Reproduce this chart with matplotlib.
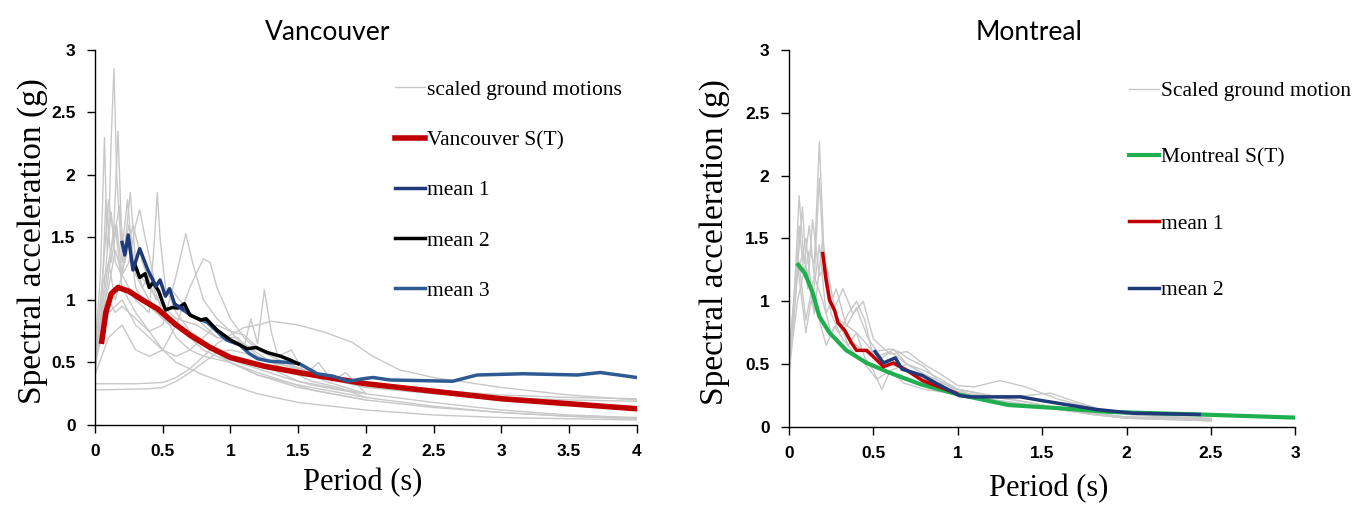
import matplotlib
matplotlib.use("Agg")
import matplotlib.pyplot as plt
from matplotlib.lines import Line2D

# ---- Vancouver data ----
van_gm_T = [
    [0, 0.05, 0.1, 0.12, 0.14, 0.16, 0.2, 0.25, 0.3, 0.4, 0.5, 0.6, 0.8, 1.0, 1.2, 1.5, 2.0],
    [0, 0.04, 0.07, 0.09, 0.12, 0.15, 0.2, 0.25, 0.3, 0.35, 0.45, 0.55, 0.7, 0.9, 1.1, 1.3, 1.5, 1.75, 2.0],
    [0, 0.05, 0.1, 0.14, 0.17, 0.2, 0.24, 0.28, 0.33, 0.4, 0.5, 0.6, 0.75, 0.9, 1.05, 1.2, 1.4, 1.6, 1.8, 2.0],
    [0, 0.05, 0.08, 0.12, 0.16, 0.2, 0.26, 0.3, 0.35, 0.4, 0.5, 0.6, 0.7, 0.8, 1.0, 1.2, 1.5, 2.0, 2.5, 3, 3.5, 4],
    [0, 0.05, 0.1, 0.15, 0.2, 0.25, 0.3, 0.33, 0.37, 0.45, 0.55, 0.65, 0.8, 1.0, 1.2, 1.4, 1.6, 1.8, 2.0, 2.5, 3, 3.5, 4],
    [0, 0.05, 0.1, 0.15, 0.2, 0.3, 0.4, 0.44, 0.46, 0.48, 0.52, 0.6, 0.7, 0.85, 1.0, 1.2, 1.4, 1.6, 1.8, 2.0, 2.5, 3, 3.5, 4],
    [0, 0.05, 0.1, 0.15, 0.2, 0.3, 0.4, 0.5, 0.6, 0.67, 0.72, 0.8, 0.9, 1.0, 1.1, 1.2, 1.3, 1.5, 1.7, 2.0],
    [0, 0.1, 0.2, 0.3, 0.4, 0.5, 0.6, 0.7, 0.8, 0.85, 0.9, 1.0, 1.1, 1.2, 1.3, 1.4, 1.6, 1.8, 2.0, 2.5, 3, 3.5, 4],
    [0, 0.1, 0.2, 0.3, 0.4, 0.5, 0.6, 0.7, 0.8, 0.9, 1.0, 1.1, 1.15, 1.2, 1.25, 1.3, 1.35, 1.45, 1.55, 1.65, 1.75, 1.85, 2.0],
    [0, 0.3, 0.5, 0.6, 0.7, 0.8, 0.9, 1.0, 1.1, 1.2, 1.3, 1.5, 1.7, 1.9, 2.05, 2.25, 2.5, 3, 3.5, 4],
    [0, 0.4, 0.5, 0.6, 0.7, 0.8, 0.9, 1.0, 1.2, 1.4, 1.6, 1.8, 2.0, 2.5, 3, 3.5, 4],
    [0, 0.05, 0.1, 0.15, 0.2, 0.3, 0.4, 0.5, 0.6, 0.8, 1.0, 1.2, 1.5, 2.0, 2.5, 3, 3.5, 4],
    [0, 0.05, 0.1, 0.14, 0.18, 0.22, 0.28, 0.35, 0.45, 0.55, 0.7, 0.9, 1.1, 1.3, 1.5, 1.7, 2.0],
]
van_gm_Sa = [
    [0.45, 0.9, 1.5, 2.3, 2.85, 2.0, 1.3, 1.6, 1.2, 1.0, 0.85, 0.8, 0.6, 0.5, 0.4, 0.3, 0.2],
    [0.6, 1.2, 2.3, 1.4, 1.7, 1.3, 1.2, 1.5, 1.1, 1.0, 0.9, 0.8, 0.75, 0.6, 0.5, 0.45, 0.35, 0.3, 0.25],
    [0.5, 0.8, 1.2, 1.6, 2.35, 1.4, 1.8, 1.3, 1.2, 1.1, 0.95, 0.85, 0.8, 0.7, 0.7, 0.55, 0.45, 0.35, 0.3, 0.22],
    [0.4, 1.0, 1.8, 1.3, 1.6, 1.2, 1.86, 1.3, 1.1, 1.2, 0.9, 0.7, 0.6, 0.55, 0.5, 0.4, 0.32, 0.22, 0.15, 0.1, 0.07, 0.05],
    [0.5, 0.9, 1.1, 1.4, 1.2, 1.3, 1.6, 1.72, 1.5, 1.1, 0.85, 0.75, 0.65, 0.5, 0.42, 0.35, 0.28, 0.24, 0.2, 0.14, 0.1, 0.07, 0.05],
    [0.55, 0.9, 1.3, 1.0, 1.2, 1.0, 0.9, 1.5, 1.86, 1.5, 1.1, 0.9, 0.75, 0.6, 0.52, 0.45, 0.38, 0.32, 0.28, 0.25, 0.18, 0.12, 0.08, 0.06],
    [0.5, 0.8, 1.0, 0.9, 0.95, 0.85, 0.75, 0.8, 1.2, 1.53, 1.3, 1.0, 0.85, 0.75, 0.72, 0.62, 0.55, 0.45, 0.35, 0.25],
    [0.4, 0.7, 0.8, 0.6, 0.55, 0.6, 0.8, 1.1, 1.33, 1.3, 1.1, 0.85, 0.7, 0.6, 0.55, 0.5, 0.42, 0.38, 0.34, 0.28, 0.24, 0.22, 0.21],
    [0.5, 0.9, 1.0, 0.8, 0.7, 0.6, 0.55, 0.6, 0.7, 0.8, 0.75, 0.62, 0.85, 0.65, 1.08, 0.75, 0.55, 0.6, 0.4, 0.5, 0.35, 0.42, 0.25],
    [0.33, 0.33, 0.34, 0.38, 0.45, 0.55, 0.65, 0.72, 0.78, 0.8, 0.83, 0.8, 0.74, 0.66, 0.55, 0.44, 0.38, 0.3, 0.24, 0.2],
    [0.28, 0.29, 0.3, 0.35, 0.42, 0.5, 0.58, 0.6, 0.55, 0.48, 0.4, 0.35, 0.3, 0.25, 0.22, 0.2, 0.19],
    [0.6, 1.1, 1.3, 1.6, 1.1, 0.9, 0.75, 0.6, 0.5, 0.4, 0.32, 0.25, 0.18, 0.12, 0.08, 0.06, 0.05, 0.04],
    [0.45, 1.1, 1.8, 1.5, 1.75, 1.3, 1.6, 1.3, 1.0, 1.1, 0.9, 0.7, 0.65, 0.5, 0.45, 0.38, 0.3],
]

van_st_T = [0.05, 0.08, 0.12, 0.17, 0.25, 0.35, 0.46, 0.6, 0.7, 0.85, 1.0, 1.25, 1.5, 2.0, 2.5, 3.0, 3.5, 4.0]
van_st_Sa = [0.67, 0.9, 1.05, 1.1, 1.07, 1.0, 0.93, 0.8, 0.72, 0.62, 0.54, 0.47, 0.42, 0.33, 0.27, 0.21, 0.17, 0.13]

van_m1_T = [0.2, 0.22, 0.245, 0.28, 0.33, 0.39, 0.45, 0.48, 0.52, 0.55, 0.59, 0.65]
van_m1_Sa = [1.46, 1.36, 1.52, 1.24, 1.41, 1.24, 1.11, 1.16, 1.03, 1.09, 0.96, 0.93]

van_m2_T = [0.295, 0.33, 0.37, 0.4, 0.43, 0.47, 0.52, 0.57, 0.61, 0.66, 0.7, 0.78, 0.82, 0.9, 1.0, 1.07, 1.12, 1.19, 1.27, 1.37, 1.44, 1.5]
van_m2_Sa = [1.28, 1.18, 1.21, 1.1, 1.14, 1.07, 0.92, 0.94, 0.935, 0.97, 0.88, 0.84, 0.85, 0.76, 0.68, 0.64, 0.61, 0.62, 0.58, 0.55, 0.52, 0.49]

van_m3_T = [0.6, 0.65, 0.72, 0.83, 0.97, 1.07, 1.14, 1.2, 1.29, 1.44, 1.51, 1.64, 1.76, 1.87, 1.98, 2.05, 2.18, 2.64, 2.82, 3.16, 3.56, 3.73, 4.0]
van_m3_Sa = [0.96, 0.92, 0.87, 0.82, 0.68, 0.64, 0.57, 0.53, 0.51, 0.5, 0.49, 0.41, 0.39, 0.35, 0.37, 0.38, 0.36, 0.35, 0.4, 0.41, 0.4, 0.42, 0.38]

# ---- Montreal data ----
mtl_gm_T = [
    [0, 0.03, 0.06, 0.09, 0.12, 0.15, 0.18, 0.21, 0.25, 0.3, 0.35, 0.4, 0.5, 0.6, 0.7, 0.8, 1.0, 1.2, 1.4, 1.6, 1.8, 2.0, 2.5],
    [0, 0.03, 0.06, 0.09, 0.12, 0.15, 0.18, 0.21, 0.25, 0.3, 0.35, 0.4, 0.45, 0.5, 0.6, 0.7, 0.8, 1.0, 1.2, 1.4, 1.6, 1.8, 2.0, 2.5],
    [0, 0.04, 0.08, 0.11, 0.14, 0.18, 0.22, 0.27, 0.32, 0.38, 0.44, 0.5, 0.6, 0.7, 0.8, 0.9, 1.0, 1.1, 1.25, 1.4, 1.6, 1.8, 2.0, 2.5],
    [0, 0.05, 0.1, 0.14, 0.18, 0.22, 0.28, 0.34, 0.4, 0.47, 0.55, 0.62, 0.7, 0.8, 0.9, 1.0, 1.2, 1.4, 1.55, 1.7, 1.9, 2.1, 2.5],
    [0, 0.05, 0.1, 0.13, 0.17, 0.22, 0.27, 0.32, 0.38, 0.45, 0.52, 0.6, 0.68, 0.8, 0.95, 1.1, 1.3, 1.5, 1.7, 2.0, 2.5],
    [0, 0.05, 0.1, 0.15, 0.2, 0.25, 0.3, 0.35, 0.4, 0.45, 0.5, 0.55, 0.6, 0.7, 0.8, 0.9, 1.0, 1.2, 1.4, 1.6, 1.8, 2.0, 2.5],
    [0, 0.05, 0.1, 0.15, 0.2, 0.25, 0.3, 0.4, 0.5, 0.6, 0.65, 0.7, 0.8, 0.9, 1.0, 1.1, 1.25, 1.4, 1.6, 1.8, 2.0, 2.5],
]
mtl_gm_Sa = [
    [0.45, 0.9, 1.6, 1.2, 1.4, 1.3, 2.27, 1.3, 1.0, 0.8, 0.7, 0.65, 0.55, 0.5, 0.45, 0.38, 0.28, 0.22, 0.18, 0.14, 0.1, 0.07, 0.05],
    [0.5, 1.0, 1.84, 1.3, 1.6, 1.2, 1.98, 1.2, 0.9, 0.75, 0.9, 1.0, 0.85, 0.55, 0.6, 0.5, 0.42, 0.3, 0.25, 0.2, 0.15, 0.11, 0.08, 0.06],
    [0.55, 1.1, 1.75, 1.1, 1.65, 1.2, 1.3, 0.95, 1.1, 0.9, 1.0, 0.7, 0.58, 0.6, 0.5, 0.42, 0.33, 0.32, 0.37, 0.32, 0.22, 0.15, 0.1, 0.07],
    [0.4, 1.2, 1.5, 1.0, 1.45, 0.9, 1.1, 0.8, 0.95, 0.7, 0.55, 0.62, 0.5, 0.45, 0.38, 0.3, 0.25, 0.25, 0.27, 0.2, 0.12, 0.09, 0.06],
    [0.6, 1.3, 0.75, 1.0, 0.9, 0.65, 0.8, 0.7, 0.6, 0.5, 0.38, 0.45, 0.35, 0.3, 0.27, 0.23, 0.2, 0.16, 0.12, 0.08, 0.05],
    [0.5, 1.4, 0.85, 1.2, 1.0, 0.75, 0.85, 0.65, 0.75, 0.55, 0.45, 0.3, 0.45, 0.5, 0.42, 0.36, 0.28, 0.24, 0.2, 0.15, 0.1, 0.08, 0.06],
    [0.45, 1.0, 1.3, 0.9, 1.5, 0.95, 0.85, 0.75, 0.6, 0.62, 0.6, 0.55, 0.48, 0.35, 0.3, 0.24, 0.2, 0.17, 0.14, 0.1, 0.07, 0.05],
]

mtl_st_T = [0.055, 0.095, 0.14, 0.18, 0.24, 0.34, 0.46, 0.6, 0.78, 1.0, 1.3, 1.6, 1.9, 2.43, 3.0]
mtl_st_Sa = [1.29, 1.22, 1.07, 0.88, 0.75, 0.61, 0.51, 0.43, 0.34, 0.26, 0.175, 0.15, 0.12, 0.10, 0.075]

mtl_m1_T = [0.2, 0.22, 0.24, 0.27, 0.29, 0.33, 0.37, 0.4, 0.46, 0.5, 0.56, 0.62, 0.7, 0.79, 0.91, 0.99]
mtl_m1_Sa = [1.38, 1.17, 1.01, 0.93, 0.83, 0.77, 0.67, 0.61, 0.61, 0.56, 0.48, 0.51, 0.45, 0.37, 0.31, 0.27]

mtl_m2_T = [0.51, 0.56, 0.63, 0.67, 0.72, 0.79, 0.87, 1.01, 1.07, 1.21, 1.37, 1.5, 1.66, 1.82, 2.04, 2.43]
mtl_m2_Sa = [0.6, 0.51, 0.55, 0.46, 0.44, 0.41, 0.35, 0.25, 0.24, 0.24, 0.24, 0.21, 0.175, 0.14, 0.11, 0.10]

GRAY = "#c8c8c8"
RED = "#c00000"
NAVY = "#1f3a78"
STEEL = "#2e5a94"
GREEN = "#1faf4f"

SERIF = "Liberation Serif"
SANS = "Liberation Sans"


def style_axes(ax, xmax, xlabel_pos, ylabel_pos):
    ax.set_xlim(0, xmax)
    ax.set_ylim(0, 3)
    ax.set_xticks([i * 0.5 for i in range(int(xmax * 2) + 1)])
    ax.set_yticks([0, 0.5, 1, 1.5, 2, 2.5, 3])
    ax.set_xticklabels(["%g" % (i * 0.5) for i in range(int(xmax * 2) + 1)])
    ax.set_yticklabels(["0", "0.5", "1", "1.5", "2", "2.5", "3"])
    for s in ["top", "right"]:
        ax.spines[s].set_visible(False)
    for s in ["left", "bottom"]:
        ax.spines[s].set_color("black")
        ax.spines[s].set_linewidth(1.0)
    ax.tick_params(direction="out", length=6, width=1, color="black", pad=8)
    for lab in ax.get_xticklabels() + ax.get_yticklabels():
        lab.set_fontfamily(SANS)
        lab.set_fontweight("bold")
        lab.set_fontsize(12.5)
    ax.set_xlabel("Period (s)", fontfamily=SERIF, fontsize=22)
    ax.set_ylabel("Spectral acceleration (g)", fontfamily=SERIF, fontsize=24)
    ax.xaxis.set_label_coords(*xlabel_pos)
    ax.yaxis.set_label_coords(*ylabel_pos)


fig = plt.figure(figsize=(13.65, 5.09), dpi=100)
ax1 = fig.add_axes([0.0696, 0.165, 0.397, 0.737])
ax2 = fig.add_axes([0.578, 0.161, 0.371, 0.741])

# Vancouver
for T, Sa in zip(van_gm_T, van_gm_Sa):
    ax1.plot(T, Sa, color=GRAY, linewidth=1.0)
ax1.plot(van_st_T, van_st_Sa, color=RED, linewidth=4)
ax1.plot(van_m3_T, van_m3_Sa, color=STEEL, linewidth=2.5)
ax1.plot(van_m2_T, van_m2_Sa, color="black", linewidth=2.5)
ax1.plot(van_m1_T, van_m1_Sa, color=NAVY, linewidth=2.5)
style_axes(ax1, 4, (0.494, -0.115), (-0.087, 0.49))
ax1.set_title("Vancouver", fontfamily="Lato", fontsize=19, x=0.43, y=1.005)

h1 = [Line2D([], [], color=GRAY, linewidth=1.0),
      Line2D([], [], color=RED, linewidth=4),
      Line2D([], [], color=NAVY, linewidth=2.5),
      Line2D([], [], color="black", linewidth=2.5),
      Line2D([], [], color=STEEL, linewidth=2.5)]
l1 = ["scaled ground motions", "Vancouver S(T)", "mean 1", "mean 2", "mean 3"]
ax1.legend(h1, l1, loc="upper left", bbox_to_anchor=(0.553, 0.92), frameon=False,
           prop={"family": SERIF, "size": 15.5}, handlelength=1.4, handletextpad=0.1,
           labelspacing=1.4, borderpad=0, borderaxespad=0)

# Montreal
for T, Sa in zip(mtl_gm_T, mtl_gm_Sa):
    ax2.plot(T, Sa, color=GRAY, linewidth=1.0)
ax2.plot(mtl_st_T, mtl_st_Sa, color=GREEN, linewidth=3)
ax2.plot(mtl_m1_T, mtl_m1_Sa, color=RED, linewidth=2.5)
ax2.plot(mtl_m2_T, mtl_m2_Sa, color=NAVY, linewidth=2.5)
style_axes(ax2, 3, (0.513, -0.125), (-0.116, 0.49))
ax2.set_title("Montreal", fontfamily="Lato", fontsize=19, x=0.475, y=1.005)

h2 = [Line2D([], [], color=GRAY, linewidth=1.0),
      Line2D([], [], color=GREEN, linewidth=3),
      Line2D([], [], color=RED, linewidth=2.5),
      Line2D([], [], color=NAVY, linewidth=2.5)]
l2 = ["Scaled ground motion", "Montreal S(T)", "mean 1", "mean 2"]
ax2.legend(h2, l2, loc="upper left", bbox_to_anchor=(0.671, 0.917), frameon=False,
           prop={"family": SERIF, "size": 15.5}, handlelength=1.4, handletextpad=0.1,
           labelspacing=2.15, borderpad=0, borderaxespad=0)

fig.savefig("out.png", dpi=100)
